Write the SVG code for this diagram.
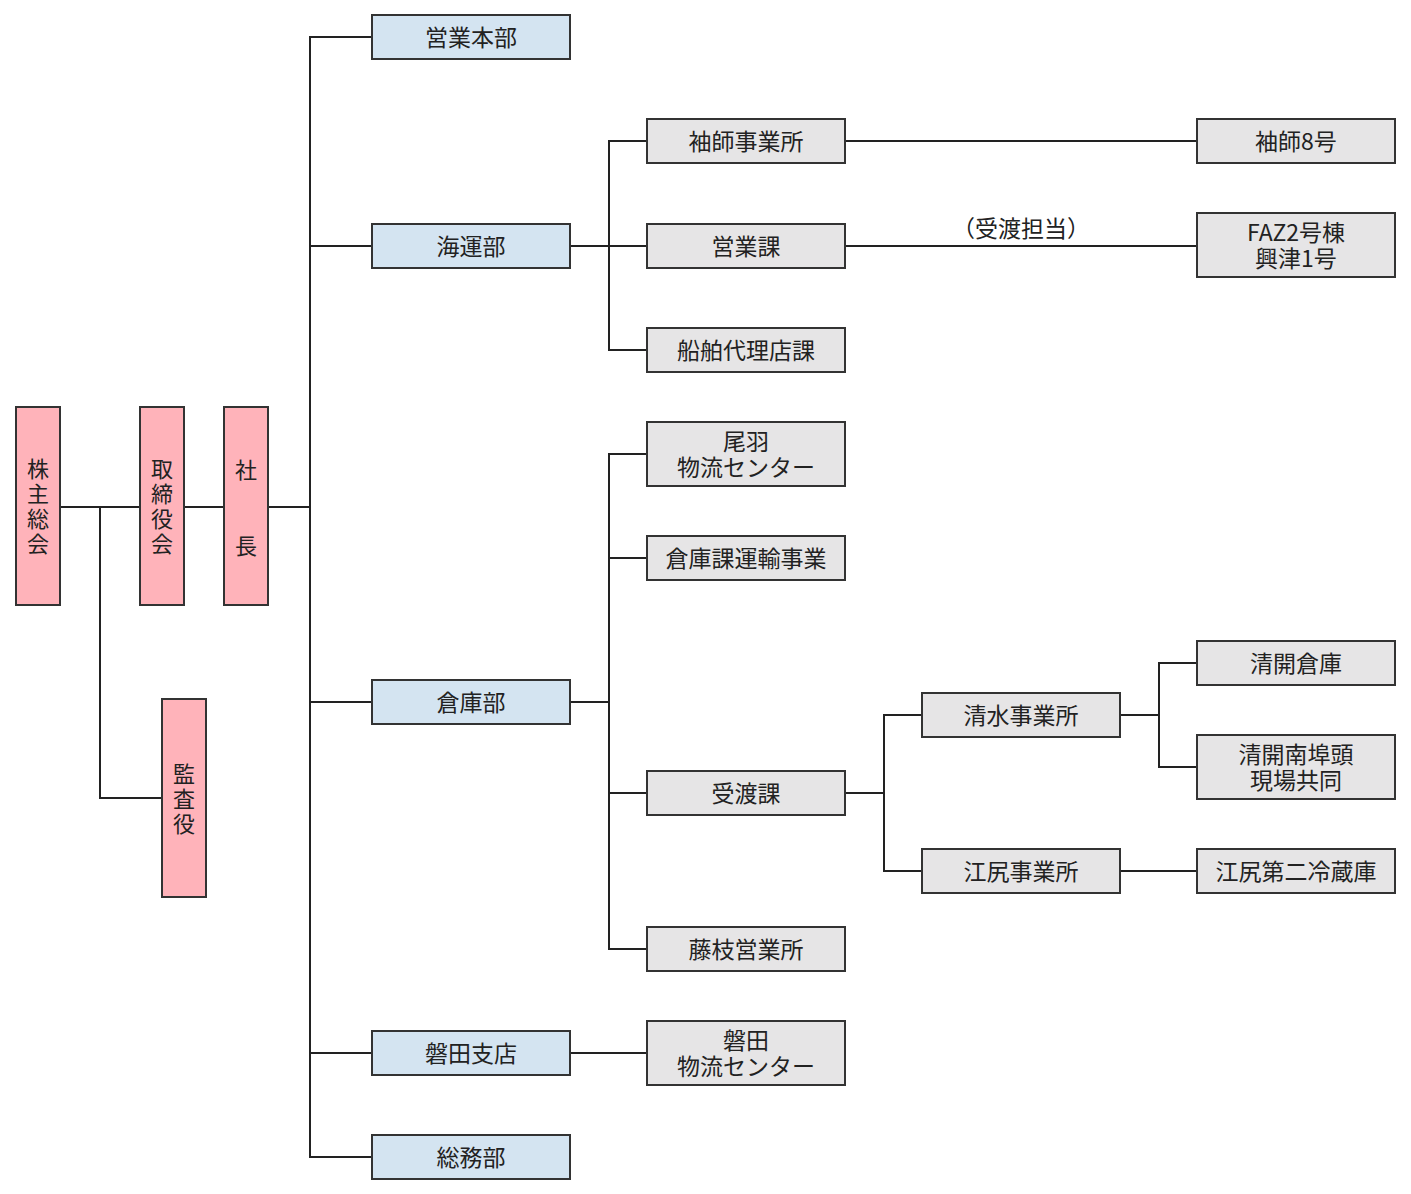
<svg xmlns="http://www.w3.org/2000/svg" width="1411" height="1194" viewBox="0 0 1411 1194">
<style>
.p{fill:#ffb3ba;stroke:#333;stroke-width:2}
.b{fill:#d4e4f1;stroke:#333;stroke-width:2}
.g{fill:#e6e5e6;stroke:#333;stroke-width:2}
text{font-family:"Noto Sans CJK JP","Noto Sans",sans-serif;font-size:23px;fill:#222;text-anchor:middle;dominant-baseline:central}
.v{font-size:22px}
#c path{fill:none;stroke:#222;stroke-width:2}
</style>
<rect width="1411" height="1194" fill="#fff"/>
<g id="c">
<path d="M60 507H140M184 507H224M268 507H310M100 507V798H162"/>
<path d="M372 37H310V1157H372M310 246H372M310 702H372M310 1053H372"/>
<path d="M570 246H647M647 141H609V350H647"/>
<path d="M570 702H609M647 454H609V949H647M609 558H647M609 793H647"/>
<path d="M570 1053H647"/>
<path d="M845 141H1197M845 246H1197"/>
<path d="M845 793H884M922 715H884V871H922"/>
<path d="M1120 715H1159M1197 663H1159V767H1197M1120 871H1197"/>
</g>
<g id="n1"><rect class="p" x="16" y="407" width="44" height="198"/><text class="v" x="38" y="467">株</text><text class="v" x="38" y="492">主</text><text class="v" x="38" y="517">総</text><text class="v" x="38" y="542">会</text></g>
<g id="n2"><rect class="p" x="140" y="407" width="44" height="198"/><text class="v" x="162" y="467">取</text><text class="v" x="162" y="492">締</text><text class="v" x="162" y="517">役</text><text class="v" x="162" y="542">会</text></g>
<g id="n3"><rect class="p" x="224" y="407" width="44" height="198"/><text class="v" x="246" y="468">社</text><text class="v" x="246" y="544">長</text></g>
<g id="n4"><rect class="p" x="162" y="699" width="44" height="198"/><text class="v" x="184" y="772">監</text><text class="v" x="184" y="797">査</text><text class="v" x="184" y="822">役</text></g>
<g id="b1"><rect class="b" x="372" y="15" width="198" height="44"/><text x="471" y="36">営業本部</text></g>
<g id="b2"><rect class="b" x="372" y="224" width="198" height="44"/><text x="471" y="245">海運部</text></g>
<g id="b3"><rect class="b" x="372" y="680" width="198" height="44"/><text x="471" y="701">倉庫部</text></g>
<g id="b4"><rect class="b" x="372" y="1031" width="198" height="44"/><text x="471" y="1052">磐田支店</text></g>
<g id="b5"><rect class="b" x="372" y="1135" width="198" height="44"/><text x="471" y="1156">総務部</text></g>
<g id="g1"><rect class="g" x="647" y="119" width="198" height="44"/><text x="746" y="140">袖師事業所</text></g>
<g id="g2"><rect class="g" x="647" y="224" width="198" height="44"/><text x="746" y="245">営業課</text></g>
<g id="g3"><rect class="g" x="647" y="328" width="198" height="44"/><text x="746" y="349">船舶代理店課</text></g>
<g id="g4"><rect class="g" x="647" y="422" width="198" height="64"/><text x="746" y="440">尾羽</text><text x="746" y="466">物流センター</text></g>
<g id="g5"><rect class="g" x="647" y="536" width="198" height="44"/><text x="746" y="557">倉庫課運輸事業</text></g>
<g id="g6"><rect class="g" x="647" y="771" width="198" height="44"/><text x="746" y="792">受渡課</text></g>
<g id="g7"><rect class="g" x="647" y="927" width="198" height="44"/><text x="746" y="948">藤枝営業所</text></g>
<g id="g8"><rect class="g" x="647" y="1021" width="198" height="64"/><text x="746" y="1039">磐田</text><text x="746" y="1065">物流センター</text></g>
<g id="r1"><rect class="g" x="1197" y="119" width="198" height="44"/><text x="1296" y="140">袖師8号</text></g>
<g id="r2"><rect class="g" x="1197" y="213" width="198" height="64"/><text x="1296" y="231">FAZ2号棟</text><text x="1296" y="257">興津1号</text></g>
<text x="1021" y="227">（受渡担当）</text>
<g id="s1"><rect class="g" x="922" y="693" width="198" height="44"/><text x="1021" y="714">清水事業所</text></g>
<g id="s2"><rect class="g" x="922" y="849" width="198" height="44"/><text x="1021" y="870">江尻事業所</text></g>
<g id="t1"><rect class="g" x="1197" y="641" width="198" height="44"/><text x="1296" y="662">清開倉庫</text></g>
<g id="t2"><rect class="g" x="1197" y="735" width="198" height="64"/><text x="1296" y="753">清開南埠頭</text><text x="1296" y="779">現場共同</text></g>
<g id="t3"><rect class="g" x="1197" y="849" width="198" height="44"/><text x="1296" y="870">江尻第二冷蔵庫</text></g>
</svg>
